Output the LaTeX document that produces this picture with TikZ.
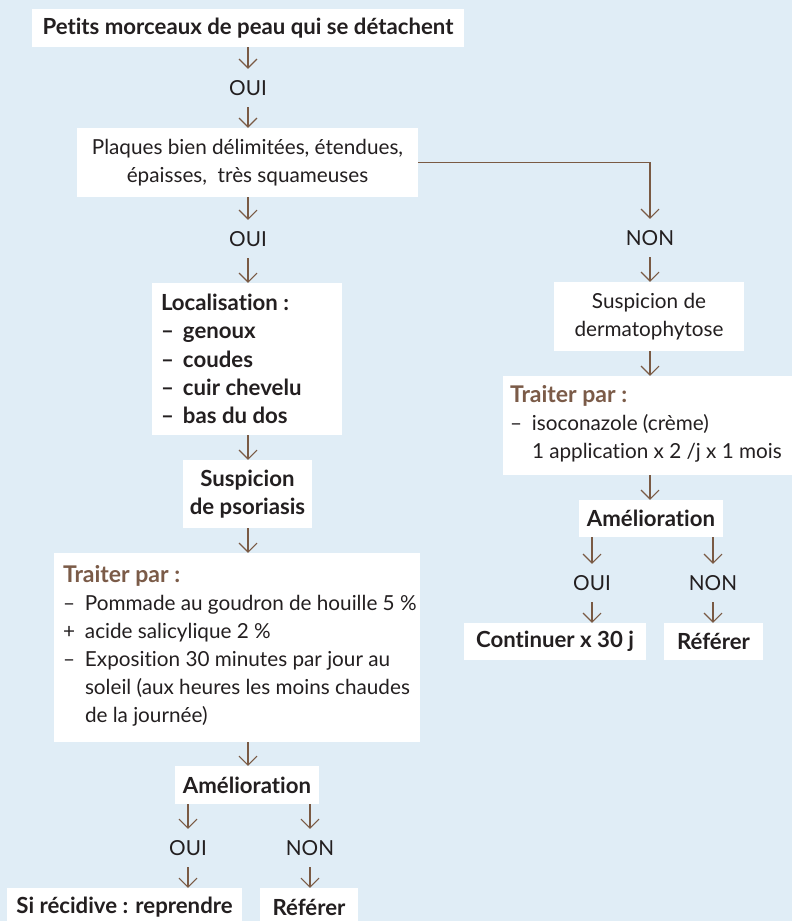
\documentclass[tikz,border=0pt]{standalone}
\usepackage{fontspec}
\setmainfont{Lato}[Ligatures={NoCommon,NoRare,NoContextual}]
\usetikzlibrary{arrows.meta}
\definecolor{bgblue}{RGB}{224,237,246}
\definecolor{arrbrown}{RGB}{122,90,68}
\definecolor{headbrown}{RGB}{123,91,72}
\definecolor{txt}{RGB}{35,31,32}
\newcommand{\itmdash}{\makebox[22pt][l]{–}}
\newcommand{\itmplus}{\makebox[22pt][l]{+}}
\newcommand{\itmsp}{\hspace*{22pt}}
\newcommand{\traiterhead}{{\fontsize{23}{28}\selectfont\bfseries\color{headbrown}Traiter par :}}
\tikzset{
 box/.style={fill=white, inner sep=0pt, text=txt, align=center, font=\fontsize{20.7}{28}\selectfont},
 bbox/.style={box, font=\fontsize{22.2}{28}\selectfont\bfseries},
 txtblock/.style={inner sep=0pt, text=txt, align=left, anchor=west, font=\fontsize{20.7}{28}\selectfont},
 lbl/.style={inner sep=0pt, minimum height=38pt, text=txt, font=\fontsize{20.7}{28}\selectfont},
 arr/.style={draw=arrbrown, line width=1.1pt, -{Straight Barb[length=9pt,width=18pt]}},
}
\begin{document}
\begin{tikzpicture}[x=1pt,y=-1pt]
\fill[bgblue] (0,0) rectangle (792,921);
\useasboundingbox (0,0) rectangle (792,921);

% left column
\node[bbox, minimum width=432pt, minimum height=38pt] (n1) at (248,28) {Petits morceaux de peau qui se détachent};
\node[lbl] (oui1) at (248,88) {OUI};
\node[box, minimum width=341pt, minimum height=69pt] (n2) at (247.5,162.5) {Plaques bien délimitées, étendues,\\ épaisses,\ \ très squameuses};
\node[lbl] (oui2) at (248,239) {OUI};
\node[box, minimum width=190pt, minimum height=152pt] (n3) at (247,359) {};
\node[txtblock, font=\fontsize{22.2}{28.25}\selectfont\bfseries] (n3t) at ([xshift=9pt]n3.west) {Localisation :\\ \itmdash genoux\\ \itmdash coudes\\ \itmdash cuir chevelu\\ \itmdash bas du dos};
\node[bbox, minimum width=129pt, minimum height=68pt] (n4) at (247.5,494) {Suspicion\\ de psoriasis};
\node[box, minimum width=366pt, minimum height=189pt] (n5) at (237,647.5) {};
\node[txtblock] (n5t) at ([xshift=9pt,yshift=2pt]n5.west) {\traiterhead\\ \itmdash Pommade au goudron de houille 5~\%\\ \itmplus acide salicylique 2~\%\\ \itmdash Exposition 30 minutes par jour au\\ \itmsp soleil (aux heures les moins chaudes\\ \itmsp de la journée)};
\node[bbox, minimum width=144pt, minimum height=38pt] (n6) at (247,785) {Amélioration};
\node[lbl] (oui3) at (188,848) {OUI};
\node[lbl] (non3) at (310,848) {NON};
\node[bbox, minimum width=235pt, minimum height=38pt] (n7) at (124.5,907) {Si récidive : reprendre};
\node[bbox, minimum width=98pt, minimum height=38pt] (n8) at (309,907) {Référer};

% right column
\node[lbl] (non1) at (650,238) {NON};
\node[box, minimum width=190pt, minimum height=69pt] (r1) at (649,316.5) {Suspicion de\\ dermatophytose};
\node[box, minimum width=289pt, minimum height=99pt] (r2) at (647.5,425.5) {};
\node[txtblock] (r2t) at ([xshift=7pt,yshift=2pt]r2.west) {\traiterhead\\ \itmdash isoconazole (crème)\\ \itmsp 1 application x 2 /j x 1 mois};
\node[bbox, minimum width=144pt, minimum height=37pt] (r3) at (651,518.5) {Amélioration};
\node[lbl] (oui4) at (592,583) {OUI};
\node[lbl] (non4) at (713,583) {NON};
\node[bbox, minimum width=182pt, minimum height=37pt] (r4) at (555,641.5) {Continuer x 30 j};
\node[bbox, minimum width=99pt, minimum height=37pt] (r5) at (713.5,641.5) {Référer};

% connectors
\draw[arr] (n1.south -| oui1) -- (oui1.north);
\draw[arr] (oui1.south) -- (n2.north -| oui1);
\draw[arr] (n2.south -| oui2) -- (oui2.north);
\draw[arr] (oui2.south) -- (n3.north -| oui2);
\draw[arr] (n3.south -| oui2) -- (n4.north -| oui2);
\draw[arr] (n4.south -| oui2) -- (n5.north -| oui2);
\draw[arr] (n5.south -| oui2) -- (n6.north -| oui2);
\draw[arr] (n6.south -| oui3) -- (oui3.north);
\draw[arr] (oui3.south) -- (n7.north -| oui3);
\draw[arr] (n6.south -| non3) -- (non3.north);
\draw[arr] (non3.south) -- (n8.north -| non3);
\draw[arr] (n2.east) -| (non1.north);
\draw[arr] (non1.south) -- (r1.north -| non1);
\draw[arr] (r1.south -| non1) -- (r2.north -| non1);
\draw[arr] (r2.south -| non1) -- (r3.north -| non1);
\draw[arr] (r3.south -| oui4) -- (oui4.north);
\draw[arr] (oui4.south) -- (r4.north -| oui4);
\draw[arr] (r3.south -| non4) -- (non4.north);
\draw[arr] (non4.south) -- (r5.north -| non4);
\end{tikzpicture}
\end{document}
